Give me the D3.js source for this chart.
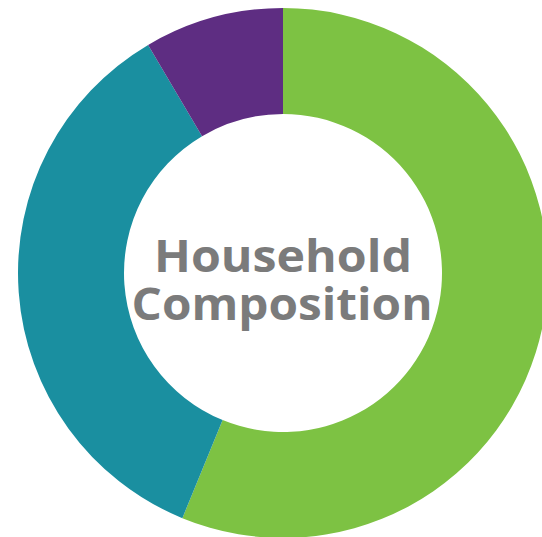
<!DOCTYPE html>
<html>
<head>
<meta charset="utf-8">
<script src="https://cdn.jsdelivr.net/npm/d3@7"></script>
<style>
  html, body { margin: 0; padding: 0; background: #fff; }
  svg { display: block; }
</style>
</head>
<body>
<div id="chart"></div>
<script>
// slices, clockwise from 12 o'clock
var categories = ["Segment A", "Segment B", "Segment C"];
var values = [56.2, 35.3, 8.5];
var colors = ["#7dc243", "#1a8fa0", "#5e2d82"];
var titleLines = ["Household", "Composition"];

var width = 542, height = 537;
var cx = 283, cy = 273;
var outerR = 265, innerR = 159;

var svg = d3.select("#chart").append("svg")
    .attr("width", width)
    .attr("height", height);

var pie = d3.pie().sort(null).value(function (d) { return d; });
var arc = d3.arc().innerRadius(innerR).outerRadius(outerR);

var g = svg.append("g").attr("transform", "translate(" + cx + "," + cy + ")");

g.selectAll("path")
    .data(pie(values))
    .enter().append("path")
    .attr("d", arc)
    .attr("fill", function (d, i) { return colors[i]; });

// centre title
var widths = [258, 301];
g.selectAll("text.title")
    .data(titleLines)
    .enter().append("text")
    .attr("class", "title")
    .attr("x", function (d, i) { return i == 0 ? 0 : -1; })
    .attr("y", function (d, i) { return i * 48 - 1; })
    .attr("text-anchor", "middle")
    .attr("textLength", function (d, i) { return widths[i]; })
    .attr("lengthAdjust", "spacingAndGlyphs")
    .style("font-family", "'Open Sans', sans-serif")
    .style("font-weight", "700")
    .style("font-size", "44px")
    .style("fill", "#7b7b7b")
    .text(function (d) { return d; });
</script>
</body>
</html>
